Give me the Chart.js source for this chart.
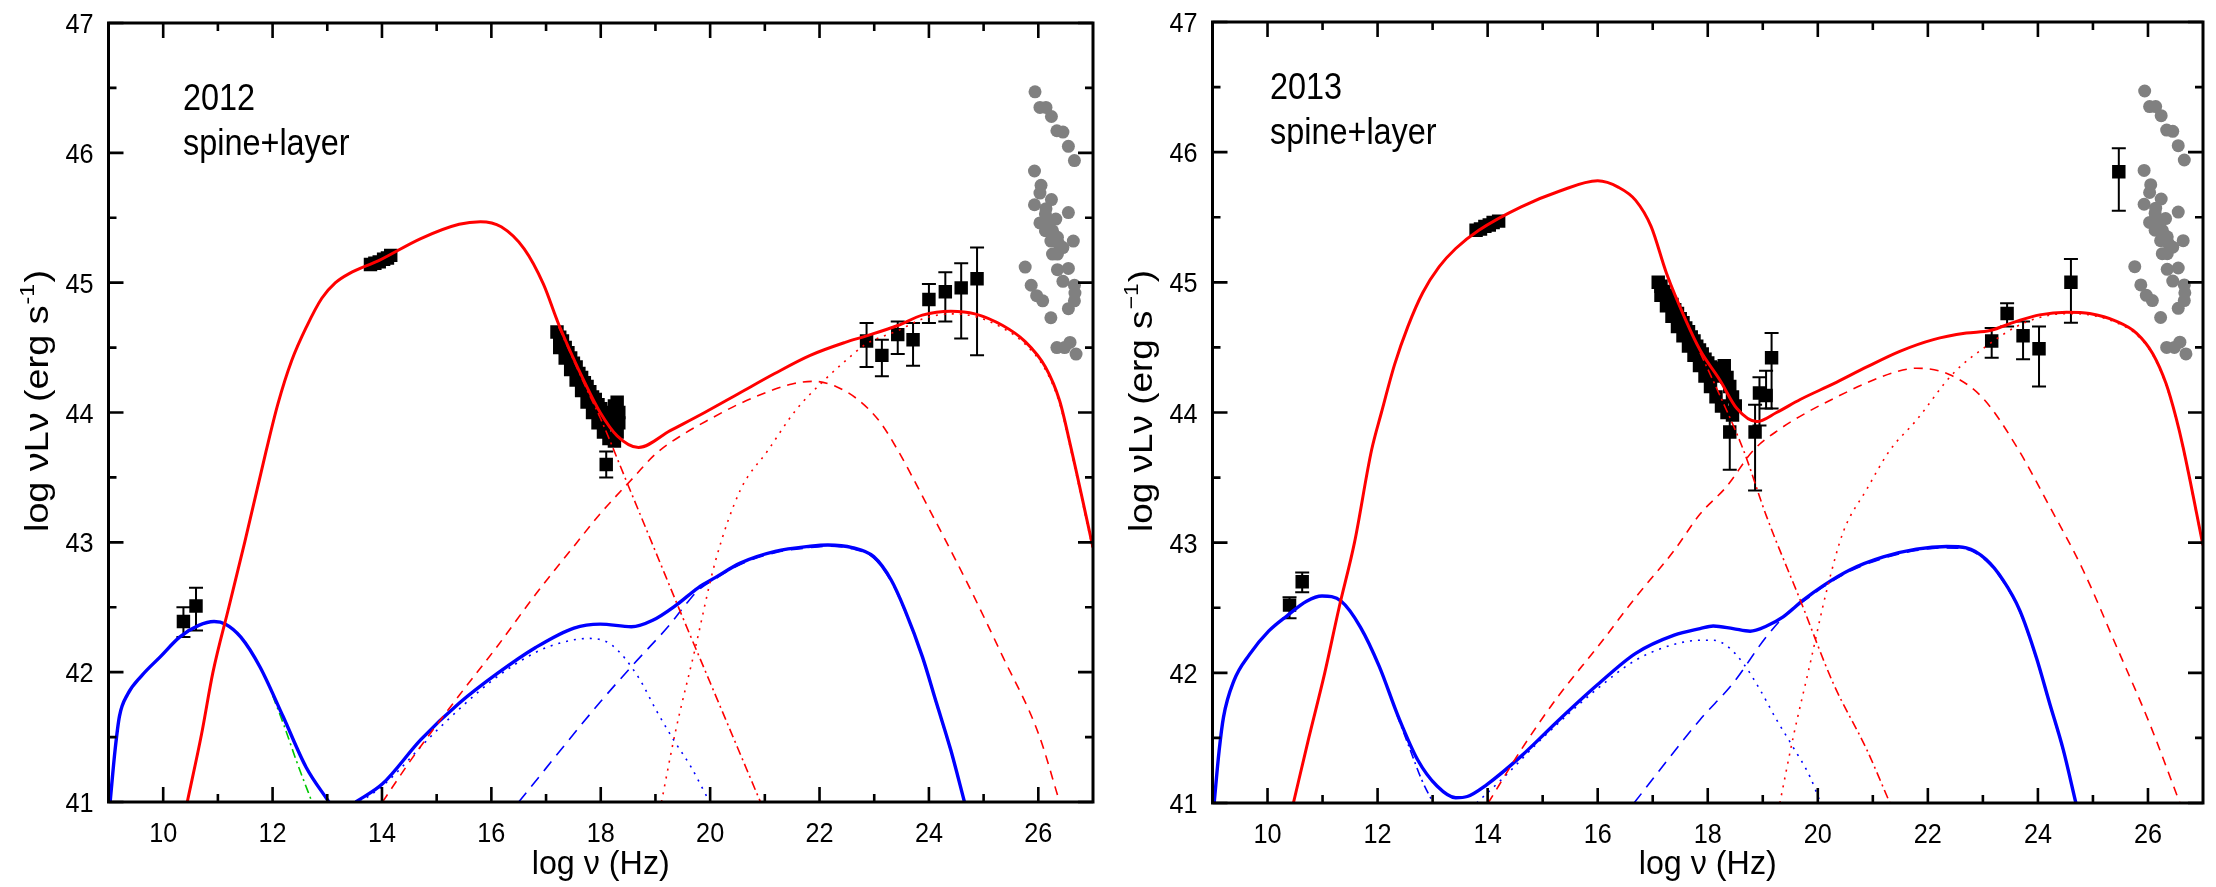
<!DOCTYPE html>
<html>
<head>
<meta charset="utf-8">
<script src="https://cdn.jsdelivr.net/npm/chart.js@4.4.0/dist/chart.umd.min.js"></script>
<style>
  html, body { margin: 0; padding: 0; background: #fff; }
  #wrap { position: relative; width: 2216px; height: 887px; overflow: hidden; }
  .panel { position: absolute; top: 0; height: 887px; }
</style>
</head>
<body>
<div id="wrap">
  <div class="panel" style="left:0;width:1110px"><canvas id="c2012" width="1110" height="887"></canvas></div>
  <div class="panel" style="left:1110px;width:1106px"><canvas id="c2013" width="1106" height="887"></canvas></div>
</div>
<script>
// ---------- axes ----------
const xRange = [9, 27];
const yRange = [41, 47];
const xMajorTicks = [10, 12, 14, 16, 18, 20, 22, 24, 26];
const xMinorTicks = [11, 13, 15, 17, 19, 21, 23, 25];
const yMajorTicks = [41, 42, 43, 44, 45, 46, 47];
const yMinorTicks = [41.5, 42.5, 43.5, 44.5, 45.5, 46.5];
const xTitle = 'log \u03bd (Hz)';

// ---------- 2012 model curves [log nu, log nuLnu] ----------
const spineTotal2012 = [[10.44,41],[10.7,41.52],[10.91,42],[11.2,42.5],[11.49,43],[11.88,43.7],[12.1,44.07],[12.35,44.4],[12.62,44.66],[12.9,44.88],[13.15,45.0],[13.4,45.07],[13.94,45.17],[14.71,45.34],[15.41,45.45],[15.8,45.47],[16.18,45.43],[16.6,45.26],[16.95,44.99],[17.23,44.68],[17.72,44.22],[17.99,44.0],[18.3,43.82],[18.69,43.73],[19.27,43.86],[19.9,44.0],[20.54,44.15],[21.18,44.3],[21.83,44.44],[22.47,44.54],[22.86,44.59],[23.43,44.67],[23.88,44.75],[24.4,44.78],[24.84,44.76],[25.35,44.67],[25.75,44.55],[26.13,44.35],[26.39,44.09],[26.58,43.76],[27.0,42.96]];
const spineSSC2012 = [[14.01,41.0],[14.54,41.33],[15.41,41.82],[16.11,42.2],[16.81,42.6],[17.51,42.97],[17.99,43.22],[18.6,43.5],[19.0,43.68],[19.5,43.83],[20.0,43.95],[20.5,44.06],[21.0,44.15],[21.5,44.22],[21.9,44.24],[22.3,44.2],[22.7,44.1],[23.1,43.93],[23.43,43.71],[23.95,43.3],[24.71,42.68],[25.35,42.12],[26.0,41.53],[26.39,41.0]];
const spineEC2012 = [[19.11,41.0],[19.36,41.53],[19.72,42.17],[20.1,42.86],[20.55,43.4],[21.06,43.71],[21.57,44.02],[22.09,44.25],[22.48,44.4],[22.86,44.53],[23.43,44.63],[23.88,44.72],[24.4,44.76],[24.84,44.74],[25.35,44.65],[25.75,44.53],[26.13,44.33],[26.39,44.07],[26.58,43.74],[27.0,42.94]];
const spineSyn2012 = [[17.23,44.66],[17.72,44.2],[18.0,43.95],[18.5,43.44],[19.0,42.93],[19.5,42.42],[20.0,41.92],[20.5,41.42],[20.92,41.0]];
const layerLow2012 = [[9.03,41.0],[9.12,41.4],[9.2,41.66],[9.35,41.83],[9.6,41.97],[9.95,42.12],[10.3,42.27],[10.65,42.36],[10.93,42.39],[11.14,42.37],[11.42,42.27],[11.77,42.04],[12.19,41.66],[12.61,41.27],[13.03,41.0]];
const layerHigh2012 = [[13.52,41.0],[14.01,41.14],[14.71,41.48],[15.41,41.76],[16.11,41.99],[16.81,42.19],[17.51,42.34],[17.99,42.37],[18.56,42.35],[18.95,42.4],[19.39,42.52],[19.78,42.65],[20.1,42.73],[20.55,42.84],[21.19,42.93],[21.83,42.97],[22.15,42.98],[22.6,42.96],[22.99,42.89],[23.31,42.71],[23.56,42.48],[23.88,42.12],[24.14,41.76],[24.4,41.4],[24.65,41.0]];
const layerSyn2012 = [[13.6,41.0],[14.0,41.12],[15.0,41.55],[16.0,41.93],[16.8,42.15],[17.3,42.23],[17.8,42.26],[18.2,42.21],[18.69,41.96],[19.01,41.71],[19.33,41.48],[19.65,41.27],[19.97,41.02],[20.0,41.0]];
const layerIC2012 = [[16.5,41.0],[17.99,41.77],[18.62,42.07],[19.27,42.37],[19.55,42.52],[19.78,42.63],[20.1,42.72],[20.55,42.83],[21.19,42.92],[21.83,42.96],[22.15,42.97],[22.6,42.95],[22.99,42.88],[23.31,42.7],[23.56,42.47],[23.88,42.11],[24.14,41.75],[24.4,41.39],[24.65,41.0]];
const layerTail2012 = [[12.0,41.82],[12.2,41.6],[12.45,41.3],[12.72,41.0]];

// ---------- 2012 data [log nu, log nuLnu, low, high] ----------
const radio2012 = [[10.37,42.39,42.27,42.5],[10.6,42.51,42.32,42.65]];
const optical2012 = [[13.79,45.14],[13.87,45.15],[13.95,45.16],[14.03,45.18],[14.1,45.19],[14.16,45.21]];
const xray2012 = [[17.2,44.62],[17.25,44.58],[17.3,44.55],[17.35,44.5],[17.4,44.46],[17.45,44.42],[17.5,44.38],[17.55,44.35],[17.6,44.3],[17.65,44.27],[17.7,44.23],[17.75,44.2],[17.8,44.16],[17.85,44.12],[17.9,44.1],[17.95,44.06],[18.0,44.03],[18.05,44.0],[18.1,43.98],[18.15,43.95],[18.2,43.93],[18.25,44.05],[18.3,44.08],[18.33,44.0],
  [17.25,44.5],[17.35,44.42],[17.45,44.33],[17.55,44.25],[17.65,44.17],[17.75,44.08],[17.85,44.0],[17.95,43.92],[18.05,43.85],[18.15,43.8],[18.25,43.78],[18.3,43.85],[18.33,43.92]];
const xrayErr2012 = [[18.1,43.6,43.5,43.7]];
const gamma2012 = [[22.86,44.55,44.35,44.69],[23.14,44.44,44.28,44.56],[23.43,44.6,44.45,44.7],[23.71,44.56,44.36,44.69],[24.0,44.87,44.69,44.99],[24.3,44.93,44.7,45.08],[24.59,44.96,44.57,45.15],[24.88,45.03,44.44,45.27]];

// ---------- very-high-energy points (both epochs) ----------
const vhePoints = [[25.94,46.47],[26.03,46.35],[26.14,46.35],[26.24,46.28],[26.34,46.17],[26.45,46.16],[26.55,46.05],[26.66,45.94],
  [25.93,45.86],[26.05,45.75],[26.03,45.69],[26.24,45.64],[25.93,45.6],[26.14,45.57],[26.13,45.53],[26.32,45.49],[26.55,45.54],[26.03,45.46],[26.19,45.47],[26.13,45.4],[26.26,45.4],[26.28,45.37],[26.35,45.35],[26.37,45.3],[26.23,45.32],[26.45,45.27],[26.64,45.32],[26.26,45.22],[26.35,45.22],[25.76,45.12],[26.35,45.1],[26.55,45.11],[26.45,45.01],[26.66,44.98],[25.87,44.98],[26.67,44.92],[25.97,44.9],[26.08,44.86],[26.66,44.86],[26.55,44.8],[26.23,44.73],[26.34,44.5],[26.48,44.5],[26.58,44.54],[26.69,44.45]];

// ---------- 2013 model curves ----------
const spineTotal2013 = [[10.47,41.0],[10.75,41.5],[11.04,42],[11.3,42.5],[11.58,43],[11.89,43.71],[12.07,44],[12.31,44.37],[12.55,44.66],[12.82,44.92],[13.12,45.12],[13.42,45.26],[13.84,45.4],[14.61,45.58],[15.3,45.7],[16.0,45.78],[16.38,45.73],[16.69,45.63],[16.97,45.43],[17.25,45.07],[17.6,44.71],[17.86,44.48],[18.22,44.25],[18.53,44.03],[18.89,43.93],[19.25,44.0],[19.68,44.1],[20.28,44.22],[20.89,44.35],[21.49,44.47],[22.1,44.56],[22.7,44.61],[23.13,44.63],[23.61,44.7],[24.03,44.75],[24.52,44.77],[24.94,44.76],[25.43,44.7],[25.79,44.61],[26.09,44.45],[26.33,44.22],[26.51,43.96],[26.64,43.73],[27.0,42.98]];
const spineSSC2013 = [[14.01,41.0],[14.61,41.41],[15.3,41.83],[16.0,42.2],[16.69,42.58],[17.39,42.94],[17.86,43.22],[18.34,43.43],[18.83,43.71],[19.3,43.87],[19.8,44.0],[20.3,44.11],[20.9,44.23],[21.4,44.31],[21.79,44.34],[22.4,44.29],[23.0,44.11],[23.61,43.74],[24.21,43.28],[24.82,42.79],[25.43,42.2],[26.03,41.61],[26.58,41.0]];
const spineEC2013 = [[19.31,41.0],[19.55,41.5],[19.86,42.07],[20.16,42.63],[20.46,43.08],[20.89,43.41],[21.31,43.71],[21.79,43.94],[22.46,44.3],[23.13,44.53],[23.61,44.66],[24.03,44.73],[24.52,44.76],[24.94,44.75],[25.43,44.69],[25.79,44.6],[26.09,44.44],[26.33,44.21],[26.51,43.95],[26.64,43.72],[27.0,42.97]];
const spineSyn2013 = [[17.86,44.46],[18.2,44.15],[18.65,43.71],[19.07,43.2],[19.68,42.56],[20.28,41.92],[20.89,41.41],[21.31,41.0]];
const layerTotal2013 = [[9.03,41.0],[9.12,41.4],[9.2,41.66],[9.39,41.94],[9.67,42.14],[10.02,42.32],[10.36,42.44],[10.71,42.55],[10.99,42.59],[11.34,42.55],[11.69,42.35],[12.03,42.05],[12.38,41.66],[12.73,41.33],[13.08,41.13],[13.42,41.04],[13.63,41.05],[13.98,41.14],[14.61,41.36],[15.3,41.64],[16.0,41.91],[16.69,42.15],[17.39,42.29],[17.86,42.34],[18.1,42.36],[18.46,42.34],[18.77,42.32],[19.07,42.36],[19.37,42.43],[19.74,42.56],[20.1,42.67],[20.58,42.79],[21.19,42.89],[21.79,42.95],[22.34,42.97],[22.7,42.96],[23.06,42.87],[23.37,42.71],[23.67,42.48],[23.97,42.12],[24.21,41.77],[24.46,41.41],[24.69,41.0]];
const layerSyn2013 = [[13.8,41.0],[14.3,41.2],[15.0,41.5],[16.0,41.88],[16.7,42.1],[17.4,42.22],[17.86,42.25],[18.1,42.25],[18.34,42.21],[18.65,42.07],[18.95,41.87],[19.25,41.64],[19.55,41.43],[19.86,41.2],[20.05,41.0]];
const layerIC2013 = [[16.66,41.0],[17.86,41.64],[18.46,41.92],[19.07,42.28],[19.55,42.5],[19.74,42.55],[20.1,42.66],[20.58,42.78],[21.19,42.88],[21.79,42.94],[22.34,42.96],[22.7,42.95],[23.06,42.86],[23.37,42.7],[23.67,42.47],[23.97,42.11],[24.21,41.76],[24.46,41.4],[24.69,41.0]];
const layerTail2013 = [[12.35,41.68],[12.6,41.4],[12.8,41.18],[13.01,41.0]];

// ---------- 2013 data ----------
const radio2013 = [[10.4,42.52,42.42,42.58],[10.63,42.7,42.62,42.77]];
const optical2013 = [[13.79,45.4],[13.87,45.41],[13.95,45.43],[14.03,45.44],[14.1,45.46],[14.2,45.47]];
const xray2013 = [[17.1,45.0],[17.15,44.97],[17.2,44.93],[17.25,44.9],[17.3,44.86],[17.35,44.83],[17.4,44.79],[17.45,44.76],[17.5,44.72],[17.55,44.69],[17.6,44.65],[17.65,44.62],[17.7,44.58],[17.75,44.55],[17.8,44.51],[17.85,44.48],[17.9,44.45],[17.95,44.41],[18.0,44.38],[18.05,44.35],[18.1,44.31],[18.15,44.28],[18.2,44.34],[18.25,44.3],[18.3,44.36],[18.35,44.27],[18.4,44.2],[18.45,44.12],[18.5,44.05],
  [17.15,44.9],[17.25,44.82],[17.35,44.74],[17.45,44.66],[17.55,44.59],[17.65,44.51],[17.75,44.44],[17.85,44.36],[17.95,44.28],[18.05,44.2],[18.15,44.12],[18.25,44.05],[18.35,44.0],[18.45,43.98]];
const xrayErr2013 = [[18.4,43.85,43.56,44.0],[18.86,43.85,43.4,44.06],[18.94,44.15,43.9,44.27],[19.06,44.13,44.03,44.32],[19.16,44.42,44.03,44.61]];
const gamma2013 = [[23.16,44.55,44.42,44.65],[23.44,44.76,44.66,44.84],[23.73,44.59,44.41,44.7],[24.02,44.49,44.2,44.66],[24.6,45.0,44.69,45.18],[25.47,45.85,45.55,46.03]];

// ---------- helpers ----------
const RED = '#ff0000', BLUE = '#0000ff', GREEN = '#00c800', GREY = '#808080';
const FONT = '"Liberation Sans", Arial, Helvetica, sans-serif';
const xy = arr => arr.map(p => ({ x: p[0], y: p[1] }));
const xyErr = arr => arr.map(p => ({ x: p[0], y: p[1], lo: p[2], hi: p[3] }));

function line(arr, color, width, dash) {
  return {
    data: xy(arr), showLine: true, borderColor: color, borderWidth: width,
    borderDash: dash || [], pointRadius: 0, fill: false,
    cubicInterpolationMode: 'monotone', order: 1
  };
}
function squares(data) {
  return { data, pointStyle: 'rect', pointRadius: 9.5, backgroundColor: '#000',
           borderWidth: 0, showLine: false, order: 5 };
}
function circles(arr) {
  return { data: xy(arr), pointStyle: 'circle', pointRadius: 6.5, backgroundColor: GREY,
           borderWidth: 0, showLine: false, order: 6 };
}

function drawText(ctx, s, x, y, size, opts) {
  const o = Object.assign({ align: 'left', base: 'alphabetic', sx: 1, width: 0 }, opts || {});
  ctx.save();
  ctx.font = size + 'px ' + FONT;
  let sx = o.sx;
  if (o.width) sx = o.width / ctx.measureText(s).width;
  ctx.translate(x, y);
  ctx.scale(sx, 1);
  ctx.textAlign = o.align; ctx.textBaseline = o.base; ctx.fillStyle = '#000';
  ctx.fillText(s, 0, 0);
  ctx.restore();
}

// rotated axis title with a raised exponent
function drawYTitle(ctx, t) {
  ctx.save();
  ctx.translate(t.x, t.y);
  ctx.rotate(-Math.PI / 2);
  const F = t.size, S = Math.round(F * 0.62);
  ctx.font = F + 'px ' + FONT;
  const w1 = ctx.measureText(t.main).width, w3 = ctx.measureText(t.tail).width;
  ctx.font = S + 'px ' + FONT;
  const w2 = ctx.measureText(t.sup).width;
  const total = w1 + w2 + w3 + 2;
  const sx = t.length / total;
  ctx.scale(sx, 1);
  ctx.fillStyle = '#000'; ctx.textBaseline = 'alphabetic'; ctx.textAlign = 'left';
  let cx = -total / 2;
  ctx.font = F + 'px ' + FONT; ctx.fillText(t.main, cx, 0); cx += w1 + 1;
  ctx.font = S + 'px ' + FONT; ctx.fillText(t.sup, cx, -F * 0.42); cx += w2 + 1;
  ctx.font = F + 'px ' + FONT; ctx.fillText(t.tail, cx, 0);
  ctx.restore();
}

// frame, inward ticks, tick labels, titles and error bars
const decorations = {
  id: 'decorations',
  beforeDatasetsDraw(chart) {
    const { ctx, scales: { x, y } } = chart;
    ctx.save();
    ctx.strokeStyle = '#000'; ctx.lineWidth = 2;
    chart.data.datasets.forEach(ds => {
      ds.data.forEach(p => {
        if (p.lo === undefined) return;
        const px = x.getPixelForValue(p.x);
        const yl = y.getPixelForValue(p.lo), yh = y.getPixelForValue(p.hi);
        ctx.beginPath();
        ctx.moveTo(px, yl); ctx.lineTo(px, yh);
        ctx.moveTo(px - 7, yl); ctx.lineTo(px + 7, yl);
        ctx.moveTo(px - 7, yh); ctx.lineTo(px + 7, yh);
        ctx.stroke();
      });
    });
    ctx.restore();
  },
  afterDraw(chart) {
    const { ctx, chartArea: a, scales: { x, y } } = chart;
    const cfg = chart.options.plugins.decorations;
    ctx.save();
    ctx.strokeStyle = '#000';
    ctx.lineWidth = 2.6;
    ctx.beginPath();
    const tick = (vals, len) => {
      vals.forEach(v => {
        const px = x.getPixelForValue(v);
        ctx.moveTo(px, a.bottom); ctx.lineTo(px, a.bottom - len);
        ctx.moveTo(px, a.top); ctx.lineTo(px, a.top + len);
      });
    };
    const ytick = (vals, len) => {
      vals.forEach(v => {
        const py = y.getPixelForValue(v);
        ctx.moveTo(a.left, py); ctx.lineTo(a.left + len, py);
        ctx.moveTo(a.right, py); ctx.lineTo(a.right - len, py);
      });
    };
    tick(xMajorTicks, 15); tick(xMinorTicks, 8);
    ytick(yMajorTicks, 15); ytick(yMinorTicks, 8);
    ctx.stroke();
    ctx.lineWidth = 3;
    ctx.strokeRect(a.left, a.top, a.right - a.left, a.bottom - a.top);
    ctx.restore();

    xMajorTicks.forEach(v => drawText(ctx, String(v), x.getPixelForValue(v), a.bottom + 40, 28, { align: 'center', sx: 0.9 }));
    yMajorTicks.forEach(v => drawText(ctx, String(v), a.left - 15, y.getPixelForValue(v) + 10, 28, { align: 'right', sx: 0.9 }));

    drawText(ctx, xTitle, (a.left + a.right) / 2 - cfg.xTitleWidth / 2, 874, 34, { width: cfg.xTitleWidth });
    drawYTitle(ctx, cfg.yTitle);
    cfg.labels.forEach(l => drawText(ctx, l.text, l.x, l.y, l.size, { sx: 0.9 }));
  }
};

function makePanel(id, datasets, padding, deco) {
  return new Chart(document.getElementById(id), {
    type: 'scatter',
    data: { datasets },
    options: {
      responsive: false, animation: false, events: [],
      devicePixelRatio: 1,
      layout: { padding, autoPadding: false },
      scales: {
        x: { type: 'linear', min: xRange[0], max: xRange[1], display: false },
        y: { type: 'linear', min: yRange[0], max: yRange[1], display: false }
      },
      plugins: { legend: { display: false }, tooltip: { enabled: false }, decorations: deco }
    },
    plugins: [decorations]
  });
}

makePanel('c2012', [
  line(spineTotal2012, RED, 3),
  line(spineSSC2012, RED, 1.6, [9, 7]),
  line(spineEC2012, RED, 1.6, [2, 6]),
  line(spineSyn2012, RED, 1.6, [9, 4, 2, 4]),
  line(layerLow2012, BLUE, 3.4),
  line(layerHigh2012, BLUE, 3.4),
  line(layerSyn2012, BLUE, 1.6, [2, 6]),
  line(layerIC2012, BLUE, 1.6, [12, 8]),
  line(layerTail2012, GREEN, 1.6, [9, 4, 2, 4]),
  squares(xyErr(radio2012)),
  squares(xy(optical2012)),
  squares(xy(xray2012)),
  squares(xyErr(xrayErr2012)),
  squares(xyErr(gamma2012)),
  circles(vhePoints)
], { left: 108.5, right: 17, top: 23, bottom: 85 }, {
  xTitleWidth: 138,
  yTitle: { x: 48, y: 401, size: 34, length: 262, main: 'log \u03bdL\u03bd (erg s', sup: '-1', tail: ')' },
  labels: [
    { text: '2012', x: 183, y: 110, size: 36 },
    { text: 'spine+layer', x: 183, y: 155, size: 36 }
  ]
});

makePanel('c2013', [
  line(spineTotal2013, RED, 3),
  line(spineSSC2013, RED, 1.6, [9, 7]),
  line(spineEC2013, RED, 1.6, [2, 6]),
  line(spineSyn2013, RED, 1.6, [9, 4, 2, 4]),
  line(layerTotal2013, BLUE, 3.4),
  line(layerSyn2013, BLUE, 1.6, [2, 6]),
  line(layerIC2013, BLUE, 1.6, [12, 8]),
  line(layerTail2013, BLUE, 1.6, [9, 4, 2, 4]),
  squares(xyErr(radio2013)),
  squares(xy(optical2013)),
  squares(xy(xray2013)),
  squares(xyErr(xrayErr2013)),
  squares(xyErr(gamma2013)),
  circles(vhePoints)
], { left: 102.5, right: 13, top: 22, bottom: 84 }, {
  xTitleWidth: 138,
  yTitle: { x: 42, y: 401, size: 34, length: 262, main: 'log \u03bdL\u03bd (erg s', sup: '\u22121', tail: ')' },
  labels: [
    { text: '2013', x: 160, y: 98.5, size: 36 },
    { text: 'spine+layer', x: 160, y: 143.5, size: 36 }
  ]
});
</script>
</body>
</html>
